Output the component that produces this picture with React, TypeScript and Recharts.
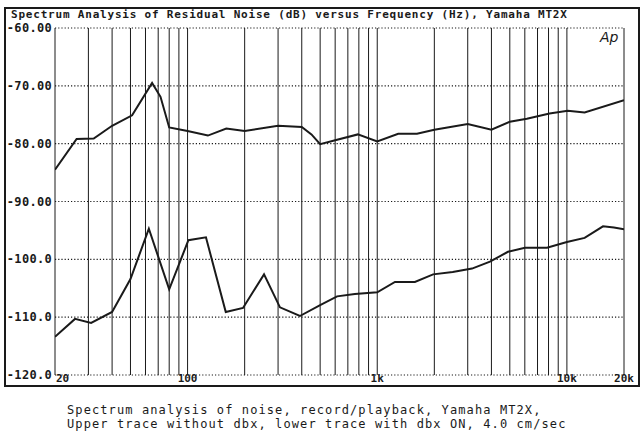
import { LineChart, Line, XAxis, YAxis, CartesianGrid } from "recharts";

// upper trace: without dbx
const upperFreq = [20, 26, 32, 40, 51, 65, 72, 80, 100, 128, 160, 200, 300, 400, 450, 500, 600, 790, 1000, 1290, 1620, 2000, 3000, 4000, 5000, 6150, 8100, 10100, 12400, 20000];
const upperLevel = [-84.5, -79.2, -79.1, -76.9, -75.1, -69.5, -71.9, -77.2, -77.8, -78.6, -77.4, -77.8, -76.9, -77.1, -78.4, -80.1, -79.4, -78.4, -79.6, -78.3, -78.3, -77.6, -76.6, -77.6, -76.2, -75.7, -74.8, -74.3, -74.6, -72.5];

// lower trace: dbx ON
const lowerFreq = [20, 25.5, 31, 40, 50, 62.5, 80, 101, 125, 159, 196, 253, 307, 391, 500, 614, 762, 1000, 1240, 1580, 1970, 2500, 3160, 3930, 4890, 6010, 7850, 10000, 12400, 15500, 17700, 20000];
const lowerLevel = [-113.4, -110.3, -111.0, -109.1, -103.4, -94.7, -105.2, -96.7, -96.2, -109.1, -108.4, -102.6, -108.3, -109.8, -107.9, -106.4, -106.0, -105.7, -103.9, -103.9, -102.6, -102.2, -101.6, -100.4, -98.7, -98.0, -98.0, -97.0, -96.3, -94.3, -94.5, -94.8];

const gridFreqs = [20, 30, 40, 50, 60, 70, 80, 90, 100, 200, 300, 400, 500, 600, 700, 800, 900, 1000, 2000, 3000, 4000, 5000, 6000, 7000, 8000, 9000, 10000, 20000];
const freqLabels: Record<number, string> = { 20: "20", 100: "100", 1000: "1k", 10000: "10k", 20000: "20k" };
const levelTicks = [-120, -110, -100, -90, -80, -70, -60];

const title = "Spectrum Analysis of Residual Noise (dB) versus Frequency (Hz), Yamaha MT2X";
const caption = [
  "Spectrum analysis of noise, record/playback, Yamaha MT2X,",
  "Upper trace without dbx, lower trace with dbx ON, 4.0 cm/sec",
];

const upper = upperFreq.map((f, i) => ({ f, v: upperLevel[i] }));
const lower = lowerFreq.map((f, i) => ({ f, v: lowerLevel[i] }));

const MONO = "'DejaVu Sans Mono', 'Liberation Mono', monospace";
const INK = "#1a1a1a";

const fmtLevel = (v: number) => (Math.abs(v) < 100 ? v.toFixed(2) : v.toFixed(1));

function XTick({ x, y, payload }: any) {
  const label = freqLabels[payload.value];
  if (!label) return null;
  const first = payload.value === 20;
  return (
    <text x={first ? x + 1 : x} y={y} dy={7} textAnchor={first ? "start" : "middle"}
      fontFamily={MONO} fontWeight="bold" fontSize={11} fill={INK}>
      {label}
    </text>
  );
}

function YTick({ x, y, payload }: any) {
  return (
    <text x={x} y={y} dy={4} textAnchor="end" fontFamily={MONO} fontWeight="bold" fontSize={12} letterSpacing={0.3} fill={INK}>
      {fmtLevel(payload.value)}
    </text>
  );
}

export default function App() {
  return (
    <div style={{ position: "absolute", left: 0, top: 0, width: 642, height: 435, background: "#fff" }}>
      <LineChart width={642} height={435} margin={{ top: 28, right: 18, bottom: 48, left: 2 }}>
        <CartesianGrid horizontal={false} stroke={INK} strokeWidth={1} verticalValues={gridFreqs} />
        <CartesianGrid vertical={false} stroke={INK} strokeWidth={1.2} strokeDasharray="1.2 2" />
        <XAxis dataKey="f" type="number" scale="log" domain={[20, 20000]} ticks={gridFreqs}
          allowDataOverflow interval={0} height={12} tickLine={false} axisLine={false}
          tickSize={0} tickMargin={0} tick={<XTick />} />
        <YAxis type="number" domain={[-120, -60]} ticks={levelTicks} width={53}
          tickLine={false} axisLine={false} tickSize={0} tickMargin={3} tick={<YTick />} />
        <Line data={upper} dataKey="v" stroke={INK} strokeWidth={2} dot={false} isAnimationActive={false} />
        <Line data={lower} dataKey="v" stroke={INK} strokeWidth={2} dot={false} isAnimationActive={false} />
      </LineChart>
      <div style={{ position: "absolute", left: 4, top: 7, width: 636, height: 380, border: `2px solid ${INK}`, boxSizing: "border-box", pointerEvents: "none" }} />
      <div style={{ position: "absolute", left: 11, top: 9, fontFamily: MONO, fontWeight: "bold", fontSize: 11, lineHeight: "12px", letterSpacing: 0.8, color: INK, whiteSpace: "pre" }}>
        {title}
      </div>
      <div style={{ position: "absolute", left: 600, top: 29, fontFamily: "'DejaVu Sans', sans-serif", fontStyle: "italic", fontSize: 14, color: INK }}>
        Ap
      </div>
      <div style={{ position: "absolute", left: 67, top: 403, fontFamily: MONO, fontSize: 12, lineHeight: "14px", letterSpacing: 1.1, color: INK, whiteSpace: "pre" }}>
        {caption.map((c) => <div key={c}>{c}</div>)}
      </div>
    </div>
  );
}
